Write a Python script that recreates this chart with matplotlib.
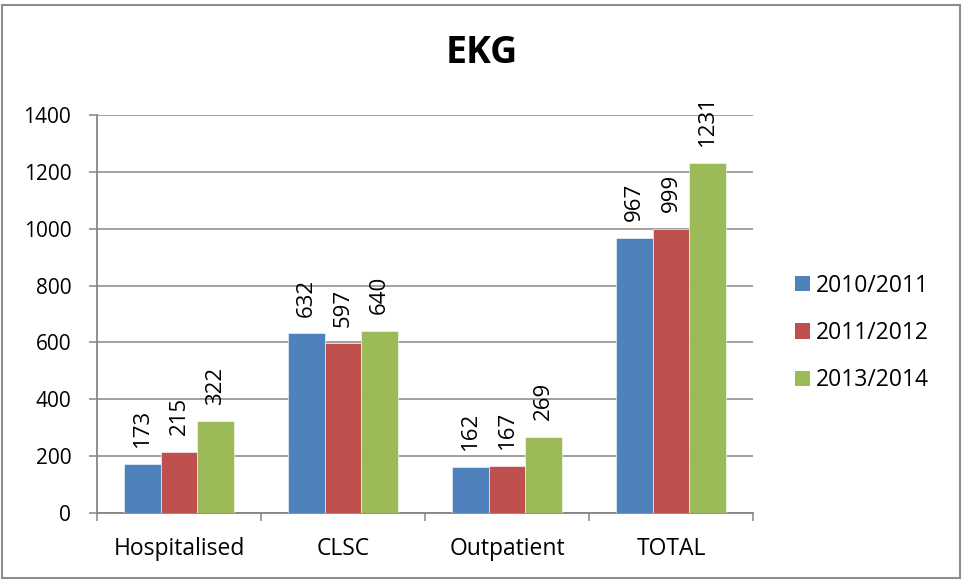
import matplotlib
matplotlib.use("Agg")
import matplotlib.pyplot as plt
from matplotlib.patches import Rectangle, Patch
import numpy as np

plt.rcParams['font.family'] = ['Open Sans', 'DejaVu Sans']

categories = ["Hospitalised", "CLSC", "Outpatient", "TOTAL"]
series_names = ["2010/2011", "2011/2012", "2013/2014"]
values_2010 = [173, 632, 162, 967]
values_2011 = [215, 597, 167, 999]
values_2013 = [322, 640, 269, 1231]
series_values = [values_2010, values_2011, values_2013]
colors = ["#4F81BD", "#C0504D", "#9BBB59"]
y_ticks = [0, 200, 400, 600, 800, 1000, 1200, 1400]

W, H = 963, 581
fig = plt.figure(figsize=(W / 100, H / 100), dpi=100)
ax = fig.add_axes([97 / W, 1 - 513 / H, (753 - 97) / W, (513 - 115) / H])

grid_col = "#868686"
fs_tick = 15
fs_label = 16
fs_cat = 16.5
fs_leg = 16.5

x = np.arange(len(categories))
bar_w = 0.667 / 3
for i, (vals, col, name) in enumerate(zip(series_values, colors, series_names)):
    pos = x + (i - 1) * bar_w
    ax.bar(pos, vals, width=bar_w, color=col, edgecolor="#ffffff",
           linewidth=0.4, zorder=3, label=name)
    for xp, v in zip(pos, vals):
        ax.annotate(str(v), xy=(xp, v), xytext=(0, 12), textcoords="offset points",
                    rotation=90, ha="center", va="bottom", fontsize=fs_label, color="black")

ax.set_xlim(-0.5, 3.5)
ax.set_ylim(0, 1400)
ax.set_yticks(y_ticks)
ax.set_yticklabels([str(t) for t in y_ticks], fontsize=fs_tick)
ax.yaxis.grid(True, color=grid_col, linewidth=1.1, zorder=0)
ax.tick_params(axis="y", direction="out", length=5.5, width=1.1, color=grid_col, pad=13)

ax.set_xticks(np.arange(-0.5, 4, 1.0))
ax.set_xticklabels([])
ax.set_xticks(x, minor=True)
ax.set_xticklabels(categories, minor=True, fontsize=fs_cat)
ax.tick_params(axis="x", which="major", direction="out", length=5.5, width=1.1, color=grid_col)
ax.tick_params(axis="x", which="minor", length=0, pad=17)

for s in ["top", "right"]:
    ax.spines[s].set_visible(False)
for s in ["left", "bottom"]:
    ax.spines[s].set_color(grid_col)
    ax.spines[s].set_linewidth(1.3)

fig.text(0.5, 1 - 53 / H, "EKG", ha="center", va="center", fontsize=27, fontweight="bold")

handles = [Patch(facecolor=c, edgecolor="none") for c in colors]
fig.legend(handles, series_names, loc="center left", bbox_to_anchor=(795 / W, 1 - 333 / H),
           frameon=False, fontsize=fs_leg, handlelength=0.65, handleheight=0.65,
           handletextpad=0.25, labelspacing=1.02, borderpad=0, borderaxespad=0)

fig.patches.append(Rectangle((2 / W, 3 / H), (W - 5) / W, (H - 8) / H, transform=fig.transFigure,
                             fill=False, edgecolor="#8c8c8c", linewidth=1.5))

fig.savefig("out.png", dpi=100)
